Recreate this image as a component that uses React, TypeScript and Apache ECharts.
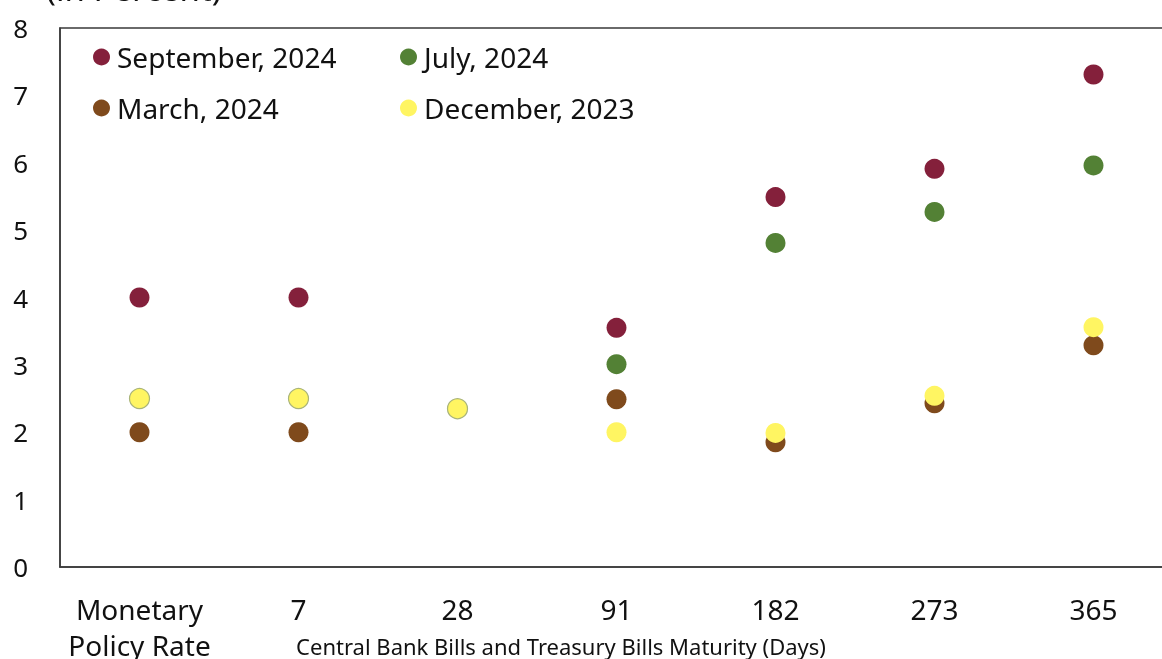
import React, { useEffect, useRef } from "react";
import * as echarts from "echarts";

const categories = ["Monetary\nPolicy Rate", "7", "28", "91", "182", "273", "365"];
const sep2024: (number | null)[] = [4.0, 4.0, null, 3.55, 5.49, 5.91, 7.31];
const jul2024: (number | null)[] = [null, null, null, 3.01, 4.81, 5.27, 5.96];
const mar2024: (number | null)[] = [2.0, 2.0, null, 2.49, 1.85, 2.43, 3.29];
const dec2023: (number | null)[] = [2.5, 2.5, 2.35, 2.0, 1.99, 2.54, 3.56];
const yTicks = [0, 1, 2, 3, 4, 5, 6, 7, 8];

const FONT = "'Noto Sans', 'Open Sans', sans-serif";

export default function App() {
  const ref = useRef<HTMLDivElement>(null);
  useEffect(() => {
    document.body.style.margin = "0";
    if (!ref.current) return;
    const chart = echarts.init(ref.current, null, { renderer: "svg" });
    const mk = (name: string, data: (number | null)[], color: string, border?: boolean[]) => ({
      name,
      type: "scatter",
      symbol: "circle",
      symbolSize: 20,
      data: data.map((v, i) =>
        border && border[i]
          ? { value: v, itemStyle: { borderColor: "#a9b47a", borderWidth: 1.2 } }
          : v
      ),
      itemStyle: { color, opacity: 1 },
      emphasis: { disabled: true },
    });
    const legendCommon = {
      orient: "vertical",
      top: 38,
      itemGap: 23,
      itemWidth: 17,
      itemHeight: 17,
      icon: "circle",
      textStyle: { fontSize: 28, color: "#111", fontFamily: FONT, padding: [0, 0, 0, 2] },
    };
    chart.setOption({
      animation: false,
      textStyle: { fontFamily: FONT },
      grid: {
        left: 60,
        top: 28,
        right: -11,
        bottom: 92,
        outerBoundsMode: "none",
        containLabel: false,
        show: true,
        borderColor: "#3a3a3a",
        borderWidth: 1.5,
      },
      xAxis: {
        type: "category",
        data: categories,
        axisLine: { lineStyle: { color: "#3a3a3a", width: 1.5 } },
        axisTick: { inside: true, length: 10, lineStyle: { color: "#3a3a3a", width: 1 } },
        axisLabel: { color: "#111", fontSize: 28, fontFamily: FONT, margin: 24, lineHeight: 36, interval: 0 },
        splitLine: { show: false },
      },
      yAxis: {
        type: "value",
        min: yTicks[0],
        max: yTicks[yTicks.length - 1],
        interval: 1,
        axisLine: { show: true, lineStyle: { color: "#3a3a3a", width: 1.5 } },
        axisTick: { show: false },
        splitLine: { show: false },
        axisLabel: { color: "#111", fontSize: 26, fontFamily: FONT, margin: 32 },
      },
      legend: [
        { ...legendCommon, data: ["September, 2024", "March, 2024"], left: 88 },
        { ...legendCommon, data: ["July, 2024", "December, 2023"], left: 395 },
      ],
      graphic: [
        {
          type: "text",
          left: 46,
          top: -28,
          style: { text: "(in Percent)", fontSize: 33, fill: "#111", fontFamily: FONT },
        },
        {
          type: "text",
          x: 561,
          y: 646,
          style: {
            text: "Central Bank Bills and Treasury Bills Maturity (Days)",
            fontSize: 22,
            fill: "#111",
            fontFamily: FONT,
            align: "center",
            verticalAlign: "middle",
          },
        },
      ],
      series: [
        mk("September, 2024", sep2024, "#84203b"),
        mk("July, 2024", jul2024, "#538135"),
        mk("March, 2024", mar2024, "#7f4a1c"),
        mk("December, 2023", dec2023, "#fff562", [true, true, true, false, false, false, false]),
      ],
    });
    return () => chart.dispose();
  }, []);
  return <div ref={ref} style={{ position: "fixed", left: 0, top: 0, width: 1162, height: 659 }} />;
}
